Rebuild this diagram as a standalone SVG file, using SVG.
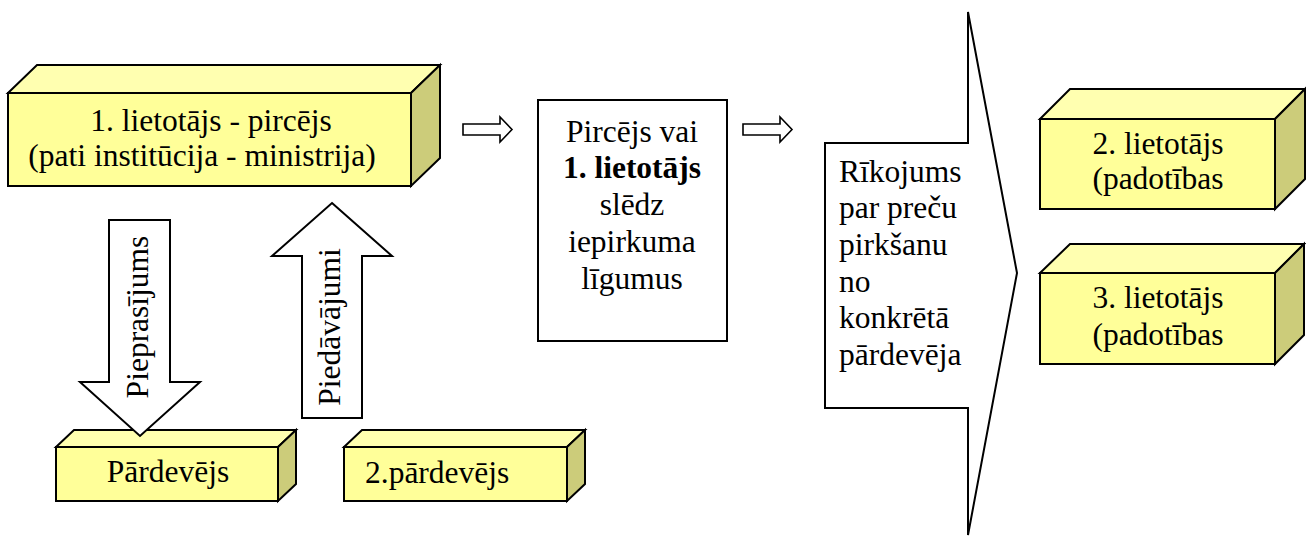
<svg xmlns="http://www.w3.org/2000/svg" width="1306" height="536" viewBox="0 0 1306 536">
<style>
.t{font-family:"Liberation Serif","Times New Roman",serif;font-size:31.5px;fill:#000}
.c{text-anchor:middle}
.b{font-weight:bold}
.front{fill:#FFFF99;stroke:#000;stroke-width:2;stroke-linejoin:miter}
.top{fill:#FFFFB0;stroke:#000;stroke-width:2;stroke-linejoin:miter}
.side{fill:#CCCC7A;stroke:#000;stroke-width:2;stroke-linejoin:miter}
.blk{fill:#fff;stroke:#000;stroke-width:2;stroke-linejoin:miter}
.sm{fill:#fff;stroke:#000;stroke-width:1.6;stroke-linejoin:miter}
</style>
<rect width="1306" height="536" fill="#fff"/>
<g id="node-lietotajs1">
<polygon class="top" points="8,93 37,65 440,65 411,93"/>
<polygon class="side" points="411,93 440,65 440,158 411,186"/>
<rect class="front" x="8" y="93" width="403" height="93"/>
<text class="t c" x="211" y="131">1. lietotājs - pircējs</text>
<text class="t c" x="202" y="166">(pati institūcija - ministrija)</text>
</g>
<g id="node-pardevejs">
<polygon class="top" points="56,447 74,430 296,430 278,447"/>
<polygon class="side" points="278,447 296,430 296,484 278,501"/>
<rect class="front" x="56" y="447" width="222" height="54"/>
<text class="t c" x="168" y="482">Pārdevējs</text>
</g>
<g id="node-pardevejs2">
<polygon class="top" points="344,447 362,430 585,430 567,447"/>
<polygon class="side" points="567,447 585,430 585,484 567,501"/>
<rect class="front" x="344" y="447" width="223" height="54"/>
<text class="t" x="365" y="483">2.pārdevējs</text>
</g>
<g id="node-ligumi">
<rect x="538" y="100" width="189" height="241" fill="#fff" stroke="#000" stroke-width="2"/>
<text class="t c" x="632" y="142">Pircējs vai</text>
<text class="t c b" x="632" y="178">1. lietotājs</text>
<text class="t c" x="632" y="215">slēdz</text>
<text class="t c" x="632" y="252">iepirkuma</text>
<text class="t c" x="632" y="289">līgumus</text>
</g>
<g id="node-rikojums">
<polygon class="blk" points="825,143 968,143 968,12 1017,273 968,535 968,408 825,408"/>
<text class="t" x="839" y="182">Rīkojums</text>
<text class="t" x="839" y="218">par preču</text>
<text class="t" x="839" y="255">pirkšanu</text>
<text class="t" x="839" y="292">no</text>
<text class="t" x="839" y="328">konkrētā</text>
<text class="t" x="839" y="365">pārdevēja</text>
</g>
<g id="node-lietotajs2">
<polygon class="top" points="1040,119 1070,89 1305,89 1275,119"/>
<polygon class="side" points="1275,119 1305,89 1305,179 1275,209"/>
<rect class="front" x="1040" y="119" width="235" height="90"/>
<text class="t c" x="1158" y="154">2. lietotājs</text>
<text class="t c" x="1158" y="189">(padotības</text>
</g>
<g id="node-lietotajs3">
<polygon class="top" points="1040,273 1070,244 1304,244 1275,273"/>
<polygon class="side" points="1275,273 1304,244 1304,335 1275,364"/>
<rect class="front" x="1040" y="273" width="235" height="91"/>
<text class="t c" x="1158" y="308">3. lietotājs</text>
<text class="t c" x="1158" y="345">(padotības</text>
</g>
<g id="connectors">
<g id="arrow-pieprasijums">
<polygon class="blk" points="109,220 170,220 170,382 200,382 140,436 80,382 109,382"/>
<text class="t c" transform="translate(148,317) rotate(-90)">Pieprasījums</text>
</g>
<g id="arrow-piedavajumi">
<polygon class="blk" points="332,203 392,256 362,256 362,418 302,418 302,256 272,256"/>
<text class="t c" transform="translate(340,327) rotate(-90)">Piedāvājumi</text>
</g>
<polygon class="sm" points="463,124 500,124 500,117 512,129.5 500,142 500,135 463,135"/>
<polygon class="sm" points="743,124 780,124 780,117 792,129.5 780,142 780,135 743,135"/>
</g>
</svg>
